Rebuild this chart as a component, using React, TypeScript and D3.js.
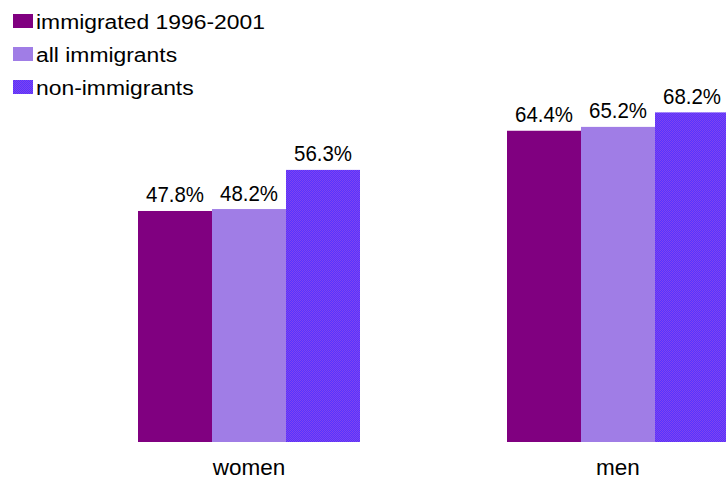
import React from "react";
import * as d3 from "d3";

const categories = ["women", "men"];
const seriesNames = ["immigrated 1996-2001", "all immigrants", "non-immigrants"];
const immigrated = [47.8, 64.4];
const allImmigrants = [48.2, 65.2];
const nonImmigrants = [56.3, 68.2];
const seriesValues = [immigrated, allImmigrants, nonImmigrants];

const W = 726;
const H = 481;
const fills = ["#800080", "#a07de6", "url(#checker)"];
const font = "'Liberation Sans', Arial, sans-serif";

export default function App() {
  const x0 = d3.scaleBand().domain(categories).range([64.5, 802.5]).paddingInner(0).paddingOuter(0);
  const groupW = 222;
  const x1 = d3.scaleBand().domain(seriesNames).range([0, groupW]).padding(0);
  const y = d3.scaleLinear().domain([0, 100]).range([442, 442 - 483.3]);

  return (
    <svg width={W} height={H} style={{ position: "absolute", left: 0, top: 0 }} fontFamily={font}>
      <defs>
        <pattern id="checker" width="2" height="2" patternUnits="userSpaceOnUse">
          <rect width="2" height="2" fill="#5533ff" />
          <rect width="1" height="1" fill="#8044ee" />
          <rect x="1" y="1" width="1" height="1" fill="#8044ee" />
        </pattern>
      </defs>
      {categories.map((c, ci) => {
        const gx = x0(c)! + (x0.bandwidth() - groupW) / 2;
        const cx = x0(c)! + x0.bandwidth() / 2;
        return (
          <g key={c}>
            {seriesNames.map((s, si) => {
              const v = seriesValues[si][ci];
              const bx = gx + x1(s)!;
              const tx = bx + x1.bandwidth() / 2;
              return (
                <g key={s}>
                  <rect x={bx} y={y(v)} width={x1.bandwidth()} height={y(0) - y(v)} fill={fills[si]} />
                  <text
                    transform={`translate(${tx}, ${y(v) - 8.5}) scale(0.93, 1)`}
                    textAnchor="middle"
                    fontSize={22}
                    fill="#000"
                  >
                    {v.toFixed(1)}%
                  </text>
                </g>
              );
            })}
            <text x={cx} y={475} textAnchor="middle" fontSize={22.5} fill="#000">
              {c}
            </text>
          </g>
        );
      })}
      {seriesNames.map((s, si) => (
        <g key={s} transform={`translate(13, ${14 + si * 33})`}>
          <rect width={20} height={14} fill={fills[si]} />
          <text transform="translate(23, 14.5) scale(1.09, 1)" fontSize={21} fill="#000">
            {s}
          </text>
        </g>
      ))}
    </svg>
  );
}
